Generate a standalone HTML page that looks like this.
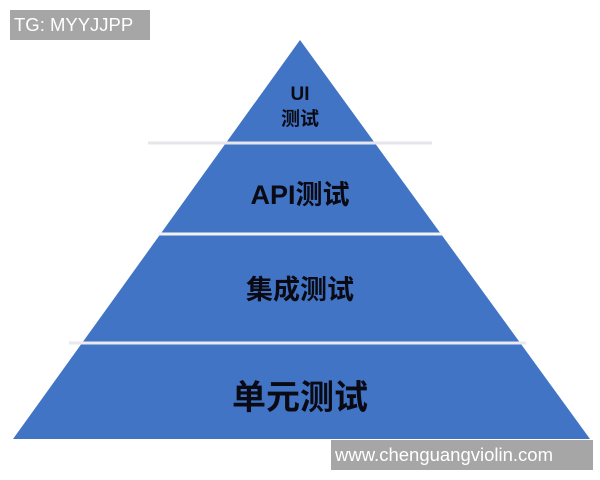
<!DOCTYPE html>
<html><head><meta charset="utf-8"><style>
body{margin:0;width:600px;height:480px;background:#fff;overflow:hidden;position:relative;font-family:"Liberation Sans","Noto Sans CJK SC",sans-serif}
.wm{position:absolute;background:#a6a6a6;color:#fff;font-size:18.5px;line-height:30px;padding-left:4px;box-sizing:border-box;white-space:nowrap}
</style></head><body>
<svg width="600" height="480" style="position:absolute;left:0;top:0">
<polygon points="300,40 590,439 13,439" fill="#4174c5"/>
<line x1="148" y1="143" x2="432" y2="143" stroke="#e4e6ea" stroke-width="3"/>
<line x1="158" y1="234" x2="442" y2="234" stroke="#f2f3f5" stroke-width="3"/>
<line x1="69" y1="343" x2="526" y2="343" stroke="#e8eaee" stroke-width="3"/>
<g font-family="Liberation Sans, Noto Sans CJK SC, sans-serif" font-weight="bold" fill="#0a0a14" text-anchor="middle">
<text x="300" y="100" font-size="19">UI</text>
<text x="300" y="125" font-size="19">测试</text>
<text x="300" y="204" font-size="27">API测试</text>
<text x="300" y="299" font-size="27">集成测试</text>
<text x="300" y="409" font-size="34">单元测试</text>
</g>
</svg>
<div class="wm" style="left:10px;top:10px;width:140px;height:30px">TG: MYYJJPP</div>
<div class="wm" style="left:331px;top:440px;width:262px;height:30px">www.chenguangviolin.com</div>
</body></html>
